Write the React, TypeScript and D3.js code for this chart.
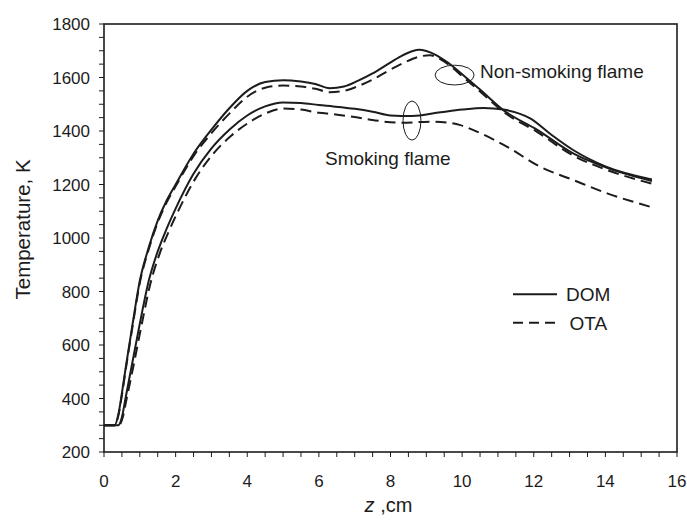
import React from "react";
import * as d3 from "d3";

// Axial temperature profiles along the flame (z in cm, T in K)
const nonSmokingDomZ = [0, 0.3, 0.4, 0.5, 0.6, 0.8, 1.0, 1.25, 1.5, 1.75, 2.0, 2.5, 3.0, 3.5, 4.0, 4.5, 5.0, 5.5, 5.9, 6.3, 6.7, 7.1, 7.5, 7.9, 8.3, 8.6, 8.8, 9.0, 9.3, 9.5, 9.7, 10.0, 10.5, 11.15, 12.1, 13.1, 14.05, 15.3];
const nonSmokingDomT = [300, 300, 340, 420, 510, 680, 840, 965, 1065, 1140, 1200, 1315, 1405, 1485, 1550, 1583, 1590, 1585, 1576, 1560, 1566, 1588, 1615, 1648, 1680, 1698, 1704, 1699, 1682, 1665, 1646, 1612, 1555, 1478, 1404, 1316, 1262, 1213];

const nonSmokingOtaZ = [0, 0.3, 0.4, 0.5, 0.6, 0.8, 1.0, 1.25, 1.5, 1.75, 2.0, 2.5, 3.0, 3.5, 4.0, 4.5, 5.0, 5.5, 5.9, 6.3, 6.7, 7.1, 7.5, 7.9, 8.4, 8.8, 9.1, 9.4, 9.7, 10.0, 10.5, 11.15, 12.1, 13.1, 14.05, 15.3];
const nonSmokingOtaT = [300, 300, 335, 412, 502, 672, 832, 958, 1058, 1133, 1193, 1306, 1392, 1465, 1528, 1562, 1570, 1566, 1558, 1545, 1550, 1568, 1592, 1622, 1657, 1678, 1683, 1668, 1640, 1605, 1548, 1472, 1396, 1308, 1254, 1203];

const smokingDomZ = [0, 0.4, 0.5, 0.6, 0.8, 1.0, 1.25, 1.5, 1.75, 2.0, 2.5, 3.0, 3.5, 4.0, 4.5, 5.0, 5.5, 6.0, 6.4, 7.0, 7.5, 8.0, 8.6, 9.4, 10.0, 10.6, 11.15, 11.9, 12.5, 13.1, 14.0, 15.3];
const smokingDomT = [300, 300, 330, 400, 540, 680, 840, 950, 1035, 1110, 1240, 1335, 1405, 1458, 1492, 1507, 1505, 1497, 1492, 1483, 1472, 1458, 1456, 1470, 1480, 1486, 1480, 1447, 1385, 1329, 1268, 1219];

const smokingOtaZ = [0, 0.42, 0.52, 0.63, 0.85, 1.05, 1.3, 1.55, 1.8, 2.05, 2.55, 3.05, 3.55, 4.05, 4.5, 5.0, 5.5, 6.0, 6.4, 7.0, 7.5, 8.27, 9.2, 9.95, 10.3, 11.26, 12.18, 13.1, 14.05, 15.3];
const smokingOtaT = [300, 300, 328, 398, 540, 675, 832, 940, 1022, 1095, 1222, 1315, 1382, 1432, 1465, 1484, 1480, 1468, 1463, 1452, 1441, 1431, 1435, 1422, 1404, 1341, 1266, 1217, 1167, 1115];

const xTicks = [0, 2, 4, 6, 8, 10, 12, 14, 16];
const yTicks = [200, 400, 600, 800, 1000, 1200, 1400, 1600, 1800];

const legendLabels = ["DOM", "OTA"];
const annotationLabels = ["Non-smoking flame", "Smoking flame"];

const W = 687;
const H = 524;
const M = { left: 104, right: 677, top: 24, bottom: 452 };
const FONT = "'Liberation Sans', Arial, Helvetica, sans-serif";
const INK = "#1c1c1c";
const DASH = "11,6";

export default function App() {
  const x = d3.scaleLinear().domain([0, 16]).range([M.left, M.right]);
  const y = d3.scaleLinear().domain([200, 1800]).range([M.bottom, M.top]);

  const line = d3
    .line<[number, number]>()
    .x((d) => x(d[0]))
    .y((d) => y(d[1]))
    .curve(d3.curveMonotoneX);

  const zip = (zs: number[], ts: number[]) => zs.map((z, i) => [z, ts[i]] as [number, number]);

  const series = [
    { pts: zip(nonSmokingDomZ, nonSmokingDomT), dash: undefined },
    { pts: zip(nonSmokingOtaZ, nonSmokingOtaT), dash: DASH },
    { pts: zip(smokingDomZ, smokingDomT), dash: undefined },
    { pts: zip(smokingOtaZ, smokingOtaT), dash: DASH },
  ];

  const xMinor = d3.range(0, 16.001, 0.5);
  const yMinor = d3.range(200, 1800.001, 50);

  const k = (M.right - M.left) / 16; // px per cm
  const kt = (M.bottom - M.top) / 1600; // px per K

  return (
    <svg
      width={W}
      height={H}
      style={{ position: "absolute", left: 0, top: 0, background: "#fff" }}
      fontFamily={FONT}
    >
      <rect x={0} y={0} width={W} height={H} fill="#fff" />

      {/* ticks every 0.5 cm and every 50 K */}
      {xMinor.map((v) => (
        <line key={"xt" + v} x1={x(v)} x2={x(v)} y1={M.bottom} y2={M.bottom + 5} stroke={INK} strokeWidth={1} />
      ))}
      {yMinor.map((v) => (
        <line key={"yt" + v} x1={M.left - 5} x2={M.left} y1={y(v)} y2={y(v)} stroke={INK} strokeWidth={1} />
      ))}

      {/* frame */}
      <rect
        x={M.left}
        y={M.top}
        width={M.right - M.left}
        height={M.bottom - M.top}
        fill="none"
        stroke={INK}
        strokeWidth={1.6}
      />

      {/* tick labels */}
      {xTicks.map((v) => (
        <text key={"xl" + v} x={x(v)} y={M.bottom + 35} fontSize={17} textAnchor="middle" fill={INK}>
          {v}
        </text>
      ))}
      {yTicks.map((v) => (
        <text key={"yl" + v} x={M.left - 14} y={y(v) + 6} fontSize={17} textAnchor="end" fill={INK}>
          {v}
        </text>
      ))}

      {/* axis titles */}
      <text x={(M.left + M.right) / 2 - 2} y={M.bottom + 60} fontSize={20} textAnchor="middle" fill={INK}>
        <tspan fontStyle="italic">z</tspan>
        <tspan> ,cm</tspan>
      </text>
      <text
        transform={`translate(30, ${M.top + 0.48 * (M.bottom - M.top)}) rotate(-90)`}
        fontSize={20.5}
        textAnchor="middle"
        fill={INK}
      >
        Temperature, K
      </text>

      {/* profiles */}
      {series.map((s, i) => (
        <path
          key={"s" + i}
          d={line(s.pts) || ""}
          fill="none"
          stroke={INK}
          strokeWidth={2}
          strokeDasharray={s.dash}
          strokeLinejoin="round"
        />
      ))}

      {/* annotations */}
      <ellipse cx={x(9.79)} cy={y(1609)} rx={0.545 * k} ry={37 * kt} fill="none" stroke={INK} strokeWidth={1} />
      <text x={x(10.5)} y={y(1598)} fontSize={19} fill={INK}>
        {annotationLabels[0]}
      </text>
      <ellipse cx={x(8.6)} cy={y(1439)} rx={0.25 * k} ry={73 * kt} fill="none" stroke={INK} strokeWidth={1} />
      <text x={x(6.17)} y={y(1273)} fontSize={19} fill={INK}>
        {annotationLabels[1]}
      </text>

      {/* legend */}
      <line x1={x(11.42)} x2={x(12.65)} y1={y(790)} y2={y(790)} stroke={INK} strokeWidth={2} />
      <text x={x(12.9)} y={y(790) + 7} fontSize={19} fill={INK}>
        {legendLabels[0]}
      </text>
      <line
        x1={x(11.42)}
        x2={x(12.65)}
        y1={y(683)}
        y2={y(683)}
        stroke={INK}
        strokeWidth={2}
        strokeDasharray="10,6"
      />
      <text x={x(13.0)} y={y(683) + 7} fontSize={19} fill={INK}>
        {legendLabels[1]}
      </text>
    </svg>
  );
}
